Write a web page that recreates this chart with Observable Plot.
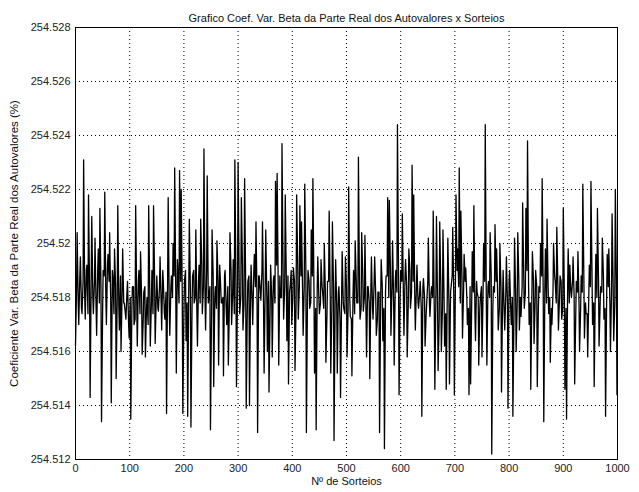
<!DOCTYPE html>
<html>
<head>
<meta charset="utf-8">
<script src="https://cdn.jsdelivr.net/npm/d3@7"></script>
<script src="https://cdn.jsdelivr.net/npm/@observablehq/plot@0.6"></script>
<style>
  html, body { margin: 0; padding: 0; background: #fff; }
</style>
</head>
<body>
<div id="chart"></div>
<script>
const titleText = "Grafico Coef. Var. Beta da Parte Real dos Autovalores x Sorteios";
const xLabelText = "Nº de Sorteios";
const yLabelText = "Coeficiente Var. Beta da Parte Real dos Autovalores (%)";

const xTicks = [0, 100, 200, 300, 400, 500, 600, 700, 800, 900, 1000];
const yTicks = [254.512, 254.514, 254.516, 254.518, 254.52, 254.522, 254.524, 254.526, 254.528];

// draws 0, 3, 6, ... 999 : values (peaks and troughs)
const coefVar = [
254.5162,254.5204,254.5170,254.5195,254.5174,254.5231,254.5172,254.5192,254.5218,254.5143,
254.5210,254.5174,254.5202,254.5166,254.5198,254.5213,254.5134,254.5190,254.5219,254.5170,
254.5196,254.5204,254.5141,254.5188,254.5198,254.5150,254.5214,254.5168,254.5160,254.5198,
254.5178,254.5172,254.5186,254.5165,254.5135,254.5184,254.5170,254.5214,254.5162,254.5190,
254.5197,254.5159,254.5182,254.5158,254.5180,254.5214,254.5162,254.5190,254.5214,254.5163,
254.5188,254.5175,254.5195,254.5168,254.5186,254.5172,254.5137,254.5217,254.5166,254.5188,
254.5200,254.5228,254.5152,254.5190,254.5227,254.5220,254.5137,254.5186,254.5164,254.5136,
254.5209,254.5132,254.5188,254.5178,254.5205,254.5162,254.5192,254.5209,254.5174,254.5235,
254.5168,254.5225,254.5180,254.5131,254.5205,254.5147,254.5184,254.5201,254.5155,254.5188,
254.5178,254.5151,254.5190,254.5170,254.5155,254.5204,254.5170,254.5194,254.5231,254.5147,
254.5230,254.5174,254.5217,254.5168,254.5224,254.5139,254.5186,254.5140,254.5192,254.5170,
254.5196,254.5208,254.5130,254.5188,254.5179,254.5208,254.5152,254.5205,254.5160,254.5145,
254.5192,254.5158,254.5188,254.5223,254.5226,254.5155,254.5180,254.5237,254.5172,254.5218,
254.5164,254.5148,254.5184,254.5170,254.5191,254.5153,254.5218,254.5172,254.5214,254.5208,
254.5166,254.5222,254.5130,254.5190,254.5176,254.5205,254.5224,254.5152,254.5131,254.5195,
254.5174,254.5194,254.5182,254.5200,254.5156,254.5186,254.5212,254.5152,254.5208,254.5127,
254.5194,254.5152,254.5184,254.5143,254.5197,254.5176,254.5195,254.5158,254.5221,254.5173,
254.5151,254.5190,254.5201,254.5178,254.5232,254.5172,254.5204,254.5175,254.5203,254.5158,
254.5184,254.5150,254.5195,254.5172,254.5195,254.5166,254.5182,254.5130,254.5194,254.5164,
254.5124,254.5188,254.5217,254.5216,254.5166,254.5201,254.5155,254.5190,254.5244,254.5144,
254.5190,254.5211,254.5166,254.5194,254.5158,254.5198,254.5176,254.5229,254.5218,254.5168,
254.5192,254.5176,254.5186,254.5136,254.5187,254.5162,254.5178,254.5202,254.5173,254.5184,
254.5212,254.5146,254.5210,254.5153,254.5208,254.5160,254.5205,254.5162,254.5146,254.5202,
254.5148,254.5184,254.5206,254.5144,254.5218,254.5198,254.5228,254.5212,254.5165,254.5196,
254.5191,254.5170,254.5144,254.5148,254.5197,254.5214,254.5164,254.5182,254.5155,254.5180,
254.5158,254.5200,254.5244,254.5155,254.5186,254.5204,254.5122,254.5184,254.5207,254.5198,
254.5168,254.5200,254.5145,254.5190,254.5168,254.5195,254.5139,254.5190,254.5170,254.5136,
254.5202,254.5160,254.5204,254.5168,254.5173,254.5215,254.5176,254.5213,254.5238,254.5170,
254.5146,254.5197,254.5163,254.5190,254.5147,254.5184,254.5200,254.5224,254.5134,254.5198,
254.5209,254.5174,254.5156,254.5170,254.5200,254.5186,254.5206,254.5168,254.5188,254.5172,
254.5213,254.5146,254.5135,254.5198,254.5192,254.5180,254.5195,254.5148,254.5186,254.5197,
254.5160,254.5188,254.5222,254.5165,254.5174,254.5158,254.5192,254.5223,254.5170,254.5147,
254.5196,254.5213,254.5162,254.5184,254.5202,254.5172,254.5136,254.5196,254.5198,254.5160,
254.5211,254.5164,254.5220,254.5144
];

const coefVarCore = [
254.5184,254.5178,254.5188,254.5176,254.5186,254.5180,254.5190,254.5174,254.5182,254.5188,
254.5180,254.5186,254.5176,254.5190,254.5178,254.5184,254.5174,254.5188,254.5180,254.5192,
254.5186,254.5178,254.5190,254.5174,254.5184,254.5180,254.5176,254.5188,254.5182,254.5178,
254.5174,254.5182,254.5170,254.5180,254.5176,254.5184,254.5172,254.5178,254.5186,254.5174,
254.5180,254.5172,254.5184,254.5176,254.5170,254.5182,254.5178,254.5174,254.5186,254.5180,
254.5176,254.5184,254.5178,254.5190,254.5174,254.5182,254.5188,254.5176,254.5184,254.5180,
254.5188,254.5182,254.5194,254.5178,254.5186,254.5180,254.5174,254.5190,254.5178,254.5184,
254.5182,254.5176,254.5190,254.5180,254.5174,254.5186,254.5178,254.5192,254.5184,254.5180,
254.5190,254.5178,254.5184,254.5174,254.5188,254.5180,254.5176,254.5186,254.5192,254.5178,
254.5180,254.5188,254.5176,254.5184,254.5178,254.5190,254.5182,254.5174,254.5186,254.5184,
254.5186,254.5180,254.5192,254.5178,254.5184,254.5176,254.5188,254.5182,254.5178,254.5190,
254.5184,254.5178,254.5188,254.5182,254.5190,254.5176,254.5184,254.5180,254.5186,254.5174,
254.5180,254.5186,254.5178,254.5192,254.5184,254.5188,254.5180,254.5190,254.5184,254.5186,
254.5188,254.5182,254.5190,254.5180,254.5186,254.5178,254.5192,254.5184,254.5188,254.5182,
254.5184,254.5190,254.5180,254.5186,254.5178,254.5188,254.5182,254.5176,254.5184,254.5180,
254.5178,254.5184,254.5176,254.5182,254.5174,254.5186,254.5180,254.5176,254.5184,254.5178,
254.5176,254.5182,254.5172,254.5180,254.5178,254.5174,254.5184,254.5176,254.5180,254.5172,
254.5180,254.5174,254.5186,254.5178,254.5182,254.5176,254.5188,254.5180,254.5174,254.5184,
254.5178,254.5184,254.5176,254.5186,254.5180,254.5172,254.5182,254.5178,254.5184,254.5176,
254.5182,254.5188,254.5180,254.5190,254.5184,254.5178,254.5186,254.5182,254.5188,254.5180,
254.5186,254.5180,254.5188,254.5184,254.5178,254.5190,254.5182,254.5186,254.5180,254.5184,
254.5178,254.5182,254.5176,254.5184,254.5180,254.5174,254.5186,254.5178,254.5182,254.5180,
254.5174,254.5182,254.5178,254.5172,254.5184,254.5176,254.5180,254.5174,254.5182,254.5178,
254.5182,254.5188,254.5180,254.5186,254.5190,254.5184,254.5178,254.5188,254.5182,254.5186,
254.5180,254.5176,254.5184,254.5178,254.5182,254.5174,254.5186,254.5180,254.5176,254.5184,
254.5182,254.5186,254.5178,254.5184,254.5180,254.5188,254.5176,254.5182,254.5186,254.5180,
254.5176,254.5184,254.5180,254.5174,254.5182,254.5178,254.5186,254.5176,254.5180,254.5174,
254.5182,254.5178,254.5186,254.5180,254.5184,254.5188,254.5182,254.5190,254.5184,254.5178,
254.5180,254.5186,254.5178,254.5184,254.5176,254.5182,254.5188,254.5180,254.5184,254.5178,
254.5184,254.5180,254.5176,254.5182,254.5188,254.5178,254.5184,254.5180,254.5186,254.5176,
254.5180,254.5176,254.5184,254.5178,254.5182,254.5186,254.5180,254.5174,254.5182,254.5178,
254.5176,254.5182,254.5186,254.5178,254.5174,254.5180,254.5184,254.5188,254.5178,254.5182,
254.5180,254.5186,254.5178,254.5182,254.5188,254.5176,254.5180,254.5184,254.5178,254.5182,
254.5184,254.5178,254.5186
];

const data = coefVar.flatMap((v, i) => {
  const pts = [{sorteio: i * 3, valor: v}];
  if (i < coefVarCore.length) pts.push({sorteio: i * 3 + 2, valor: coefVarCore[i]});
  return pts;
});
const fmt = d => String(d);

const chart = Plot.plot({
  width: 639,
  height: 492,
  marginLeft: 75,
  marginRight: 22,
  marginTop: 27,
  marginBottom: 33,
  style: {fontFamily: "'Liberation Sans', Arial, sans-serif", fontSize: "11px", background: "#fff", color: "#222"},
  x: {domain: [0, 1000], ticks: xTicks, tickFormat: fmt, label: null},
  y: {domain: [254.512, 254.528], ticks: yTicks, tickFormat: fmt, label: null},
  marks: [
    Plot.gridX(xTicks.slice(1, -1), {stroke: "#000", strokeOpacity: 1, strokeDasharray: "1,3", strokeWidth: 1}),
    Plot.gridY(yTicks.slice(1, -1), {stroke: "#000", strokeOpacity: 1, strokeDasharray: "1,3", strokeWidth: 1}),
    Plot.line(data, {x: "sorteio", y: "valor", stroke: "#000", strokeWidth: 1.3}),
    Plot.frame({stroke: "#000", strokeWidth: 1}),
    Plot.axisX(xTicks, {tickSize: 0, tickPadding: 5, fontSize: 11, tickFormat: fmt}),
    Plot.axisY(yTicks, {tickSize: 0, tickPadding: 5, fontSize: 11, tickFormat: fmt}),
    Plot.text([titleText], {frameAnchor: "top", dy: -13, fontSize: 11, fill: "#111"}),
    Plot.text([xLabelText], {frameAnchor: "bottom", dy: 25, fontSize: 11, fill: "#111"}),
    Plot.text([yLabelText], {frameAnchor: "left", textAnchor: "middle", dx: -61, rotate: -90, fontSize: 11.5, fill: "#111"})
  ]
});

document.getElementById("chart").appendChild(chart);
</script>
</body>
</html>
